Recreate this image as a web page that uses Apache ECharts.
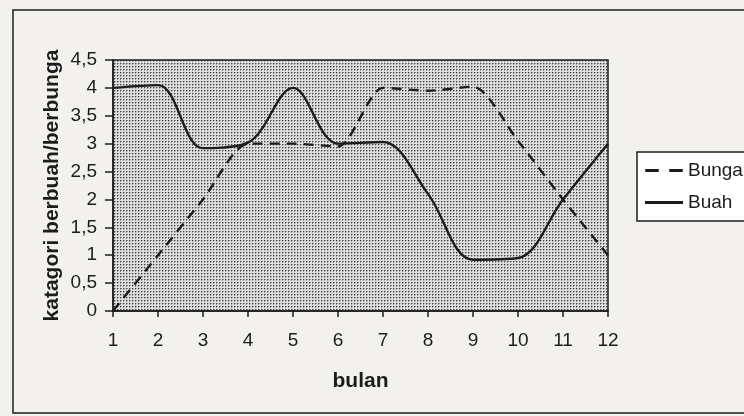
<!DOCTYPE html>
<html><head><meta charset="utf-8">
<script src="https://cdn.jsdelivr.net/npm/echarts@6/dist/echarts.min.js"></script>
<style>html,body{margin:0;padding:0;background:#f3f1ee;}#c{width:744px;height:416px;}</style>
</head><body><div id="c"></div>
<script>
const months = ['1','2','3','4','5','6','7','8','9','10','11','12'];
const bunga = [0, 1.0, 2.0, 3.0, 3.0, 2.95, 4.0, 3.95, 4.02, 3.05, 2.0, 1.0];
const buah = [4.0, 4.05, 2.92, 3.02, 4.0, 3.0, 3.03, 2.1, 0.92, 0.95, 2.0, 3.0];

const pc = document.createElement('canvas');
pc.width = 3; pc.height = 3;
const px = pc.getContext('2d');
px.fillStyle = '#dedede'; px.fillRect(0,0,3,3);
px.fillStyle = '#999'; px.fillRect(1,0,1,1); px.fillRect(0,1,1,1);
px.fillStyle = '#444'; px.fillRect(0,0,1,1);

const chart = echarts.init(document.getElementById('c'), null, {renderer:'canvas'});
const font = 'Liberation Sans, Arial, sans-serif';
const ink = '#1c1c1c';
chart.setOption({
  animation:false,
  backgroundColor:'#f3f1ee',
  graphic:[{type:'rect', shape:{x:13,y:10,width:760,height:403}, style:{fill:'none', stroke:ink, lineWidth:1.5}, silent:true}],
  grid:{left:113, right:136, top:60, bottom:105, show:true, backgroundColor:{image:pc, repeat:'repeat'}, borderColor:ink, borderWidth:1.5},
  legend:{orient:'vertical', left:637, top:152, itemGap:13, itemWidth:38, itemHeight:3, padding:[9,20,9,8],
    backgroundColor:'#fff', borderColor:ink, borderWidth:1.5,
    textStyle:{fontFamily:font, fontSize:19, color:ink},
    data:[{name:'Bunga', icon:'path://M0,0h9v2h-9z M16,0h9v2h-9z'}, {name:'Buah', icon:'rect'}]},
  xAxis:{type:'category', data:months, boundaryGap:false,
    name:'bulan', nameLocation:'middle', nameGap:60, nameMoveOverlap:false, nameTextStyle:{fontFamily:font, fontSize:21, fontWeight:'bold', color:ink},
    axisLine:{lineStyle:{color:ink, width:1.5}}, axisTick:{alignWithLabel:true, length:6, lineStyle:{color:ink, width:1.5}},
    axisLabel:{fontFamily:font, fontSize:19, color:ink, margin:20}, splitLine:{show:false}},
  yAxis:{type:'value', min:0, max:4.5, interval:0.5,
    name:'katagori berbuah/berbunga', nameLocation:'middle', nameGap:50, nameMoveOverlap:false, nameTextStyle:{fontFamily:font, fontSize:21, fontWeight:'bold', color:ink},
    axisLine:{show:true, lineStyle:{color:ink, width:1.5}}, axisTick:{show:true, length:8, lineStyle:{color:ink, width:1.5}},
    axisLabel:{fontFamily:font, fontSize:19, color:ink, margin:16, formatter:v=>String(v).replace('.',',')},
    splitLine:{show:false}},
  series:[
    {name:'Bunga', type:'line', data:bunga, smooth:0.25, symbol:'none', lineStyle:{color:ink, width:2.4, type:[10,7]}, itemStyle:{color:ink}},
    {name:'Buah', type:'line', data:buah, smooth:0.35, symbol:'none', lineStyle:{color:ink, width:2.4}, itemStyle:{color:ink}}
  ]
});
</script></body></html>
